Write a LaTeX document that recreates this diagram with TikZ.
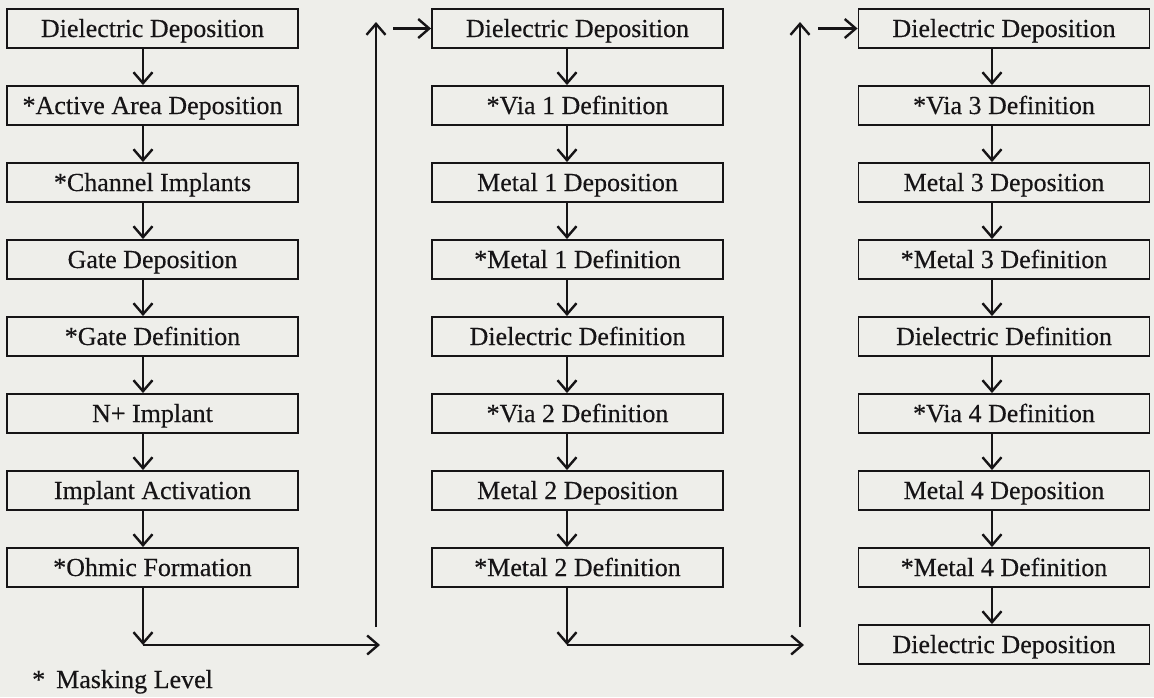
\documentclass[tikz,border=0pt]{standalone}
\usepackage{fontspec}
\setmainfont{Liberation Serif}
\newfontfamily\boxfont{Liberation Serif}[FakeBold=0.3]
\usetikzlibrary{arrows.meta}
\definecolor{bg}{RGB}{238,238,234}
\definecolor{ink}{RGB}{22,20,22}
\begin{document}
\begin{tikzpicture}[x=1pt,y=-1pt,
  stepbox/.style={draw=ink,line width=1.9pt,minimum width=291pt,minimum height=39pt,inner sep=0pt,
    text height=20pt,text depth=3pt,font=\boxfont\fontsize{26}{30}\selectfont,text=ink},
  arr/.style={draw=ink,line width=2.2pt,-{Straight Barb[length=11pt,width=19pt,line width=2.4pt]}}]
\fill[bg] (0,0) rectangle (1154,697);
\useasboundingbox (0,0) rectangle (1154,697);
% column 1
\foreach \t [count=\i] in {Dielectric Deposition,*Active Area Deposition,*Channel Implants,Gate Deposition,*Gate Definition,N+ Implant,Implant Activation,*Ohmic Formation}{
  \node[stepbox] (a\i) at (152.5,{28.5+77*(\i-1)}) {\t};
}
\foreach \t [count=\i] in {Dielectric Deposition,*Via 1 Definition,Metal 1 Deposition,*Metal 1 Definition,Dielectric Definition,*Via 2 Definition,Metal 2 Deposition,*Metal 2 Definition}{
  \node[stepbox] (b\i) at (577.5,{28.5+77*(\i-1)}) {\t};
}
\foreach \t [count=\i] in {Dielectric Deposition,*Via 3 Definition,Metal 3 Deposition,*Metal 3 Definition,Dielectric Definition,*Via 4 Definition,Metal 4 Deposition,*Metal 4 Definition,Dielectric Deposition}{
  \node[stepbox] (c\i) at (1004,{28.5+77*(\i-1)}) {\t};
}
\foreach \i [evaluate=\i as \j using int(\i+1)] in {1,...,7}{
  \draw[arr] ([xshift=-9.5pt]a\i.south) -- ([xshift=-9.5pt]a\j.north);
  \draw[arr] ([xshift=-10.5pt]b\i.south) -- ([xshift=-10.5pt]b\j.north);
}
\foreach \i [evaluate=\i as \j using int(\i+1)] in {1,...,8}{
  \draw[arr] ([xshift=-12pt]c\i.south) -- ([xshift=-12pt]c\j.north);
}
% link column 1 -> column 2
\coordinate (p1) at (143,645);
\coordinate (p2) at (380,645);
\coordinate (q1) at (376,627);
\coordinate (q2) at (376,22);
\coordinate (r1) at (393,28.5);
\draw[arr] ([xshift=-9.5pt]a8.south) -- (p1);
\draw[arr] (p1) -- (p2);
\draw[arr] (q1) -- (q2);
\draw[arr] (r1) -- (b1.west);
% link column 2 -> column 3
\coordinate (s1) at (567,645);
\coordinate (s2) at (804,645);
\coordinate (t1) at (800,627);
\coordinate (t2) at (800,22);
\coordinate (u1) at (818,28.5);
\draw[arr] ([xshift=-10.5pt]b8.south) -- (s1);
\draw[arr] (s1) -- (s2);
\draw[arr] (t1) -- (t2);
\draw[arr] (u1) -- (c1.west);
% footnote
\node[anchor=base west,inner sep=0pt,font=\boxfont\fontsize{26}{30}\selectfont,text=ink] (note) at (32,688) {*\hspace{11pt}Masking Level};
\end{tikzpicture}
\end{document}
